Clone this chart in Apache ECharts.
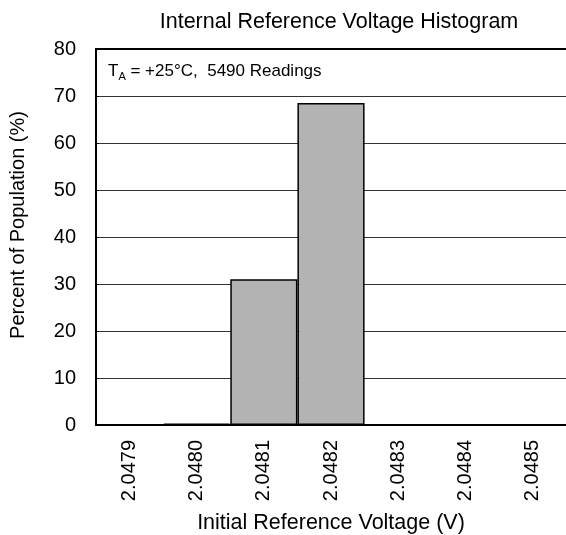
<!DOCTYPE html>
<html>
<head>
<meta charset="utf-8">
<script src="https://cdn.jsdelivr.net/npm/echarts@6/dist/echarts.min.js"></script>
<style>
  html, body { margin: 0; padding: 0; background: #fff; }
  #chart { width: 566px; height: 535px; }
</style>
</head>
<body>
<div id="chart"></div>
<script>
// histogram bins (V) and percent of population
var voltages = ['2.0479', '2.0480', '2.0481', '2.0482', '2.0483', '2.0484', '2.0485']
var percents = [0, 0.3, 31, 68.5, 0, 0, 0]
var yTicks = { min: 0, max: 80, step: 10 }

var font = 'Liberation Sans, Arial, sans-serif'
var chartDom = document.getElementById('chart')
var myChart = echarts.init(chartDom)
var option
option = {
  backgroundColor: '#fff',
  animation: false,
  title: {
    text: 'Internal Reference Voltage Histogram',
    left: 334,
    textAlign: 'center',
    top: 6,
    textStyle: { fontFamily: font, fontSize: 21.5, fontWeight: 'normal', color: '#000' }
  },
  grid: {
    left: 96,
    top: 49,
    right: 0,
    bottom: 110,
    outerBoundsMode: 'none'
  },
  xAxis: [
    {
      type: 'category',
      data: voltages,
      name: 'Initial Reference Voltage (V)',
      nameLocation: 'middle',
      nameGap: 87,
      nameTextStyle: { fontFamily: font, fontSize: 21.5, color: '#000' },
      axisLine: { lineStyle: { color: '#000', width: 2 } },
      axisTick: { show: false },
      axisLabel: { rotate: 90, fontFamily: font, fontSize: 20, color: '#000', margin: 15 }
    },
    {
      type: 'category',
      position: 'top',
      data: voltages,
      axisLine: { show: true, lineStyle: { color: '#000', width: 2 } },
      axisTick: { show: false },
      axisLabel: { show: false }
    }
  ],
  yAxis: {
    type: 'value',
    min: yTicks.min,
    max: yTicks.max,
    interval: yTicks.step,
    name: 'Percent of Population (%)',
    nameLocation: 'middle',
    nameGap: 68,
    nameTextStyle: { fontFamily: font, fontSize: 20, color: '#000', padding: [0, 0, 0, 24] },
    axisLine: { show: true, lineStyle: { color: '#000', width: 2 } },
    axisTick: { show: true, inside: true, length: 3, lineStyle: { color: '#000' } },
    axisLabel: { fontFamily: font, fontSize: 20, color: '#000', margin: 20 },
    splitLine: { show: true, lineStyle: { color: '#333', width: 1 } }
  },
  graphic: [
    {
      type: 'text',
      left: 108,
      top: 63,
      style: {
        text: '{n|T}{s|A}{n| = +25°C,  5490 Readings}',
        rich: {
          n: { fontFamily: font, fontSize: 17, fill: '#000' },
          s: { fontFamily: font, fontSize: 11, fill: '#000', verticalAlign: 'bottom', padding: [10, 0, 0, 0] }
        }
      }
    }
  ],
  series: [
    {
      type: 'bar',
      data: percents,
      barCategoryGap: '0%',
      itemStyle: { color: '#b3b3b3', borderColor: '#000', borderWidth: 1.5 }
    }
  ]
}

option && myChart.setOption(option)
</script>
</body>
</html>
